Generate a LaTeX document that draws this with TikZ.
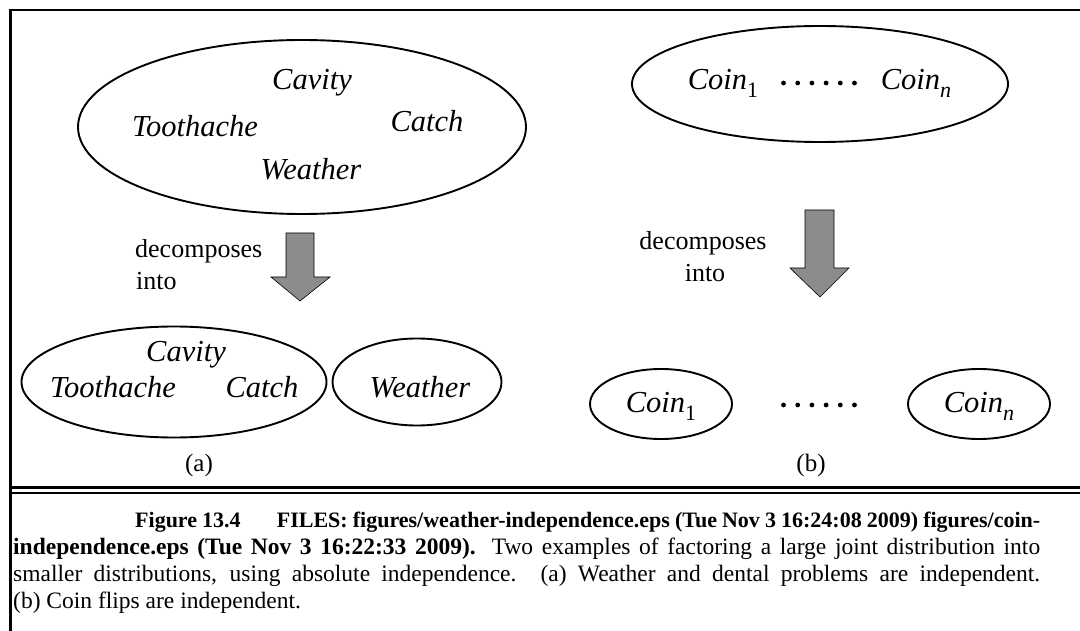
\documentclass[tikz,border=0pt]{standalone}
\usepackage{fontspec}
\setmainfont{Liberation Serif}
\usetikzlibrary{shapes.geometric}
\newcommand\coinsub[1]{Coin\raisebox{-8pt}{\fontsize{22}{22}\selectfont #1}}
\begin{document}
\begin{tikzpicture}[x=1pt,y=-1pt,
  oval/.style={draw, ellipse, line width=1.9pt, inner sep=0pt},
  var/.style={font=\fontsize{30.5}{36}\selectfont\itshape, inner sep=0pt, anchor=base},
  lbl/.style={font=\fontsize{26}{32}\selectfont, inner sep=0pt},
  sublbl/.style={font=\fontsize{25}{30}\selectfont, inner sep=0pt, anchor=base},
  bigarrow/.style={fill=black!45, draw=black, line width=0.6pt, line join=miter},
  frameline/.style={line width=2.7pt},
  dot/.style={fill=black}]
\useasboundingbox (0,0) rectangle (1080,631);
% frame
\draw[frameline, line join=miter] (1080,10) -- (10.5,10) -- (10.5,631);
\draw[line width=2.5pt] (10.5,487.5) -- (1080,487.5);
\draw[line width=2.5pt] (10.5,493) -- (1080,493);

% (a) top joint
\node[oval, minimum width=448pt, minimum height=174pt] (jointA) at (302,127) {};
\node[var] (cavA) at (312,90) {Cavity};
\node[var] (tooA) at (195,137) {Toothache};
\node[var] (catA) at (427,132) {Catch};
\node[var] (weaA) at (311,180) {Weather};

% (a) arrow
\draw[bigarrow] (286,233) -- (314,233) -- (314,277) -- (330,277) -- (300,301) -- (271,277) -- (286,277) -- cycle;
\node[lbl, anchor=base west] (decA1) at (135,258) {decomposes};
\node[lbl, anchor=base west] (decA2) at (136,290) {into};

% (a) bottom
\node[oval, minimum width=305pt, minimum height=111pt] (dentA) at (174,382) {};
\node[var] (cavB) at (186,362) {Cavity};
\node[var] (tooB) at (113,397) {Toothache};
\node[var] (catB) at (262,397) {Catch};
\node[oval, minimum width=169pt, minimum height=87pt] (weathA) at (417,382) {};
\node[var] (weaB) at (420,397) {Weather};
\node[sublbl] (labA) at (199,471) {(a)};

% (b) top joint
\node[oval, minimum width=376pt, minimum height=116pt] (jointB) at (820,84) {};
\node[var] (c1top) at (723,90) {\coinsub{\upshape 1}};
\node[var] (cntop) at (916,90) {\coinsub{n}};
\foreach \i in {0,...,5} \fill[dot] (783.5+14.2*\i,83) circle[radius=2.4pt];

% (b) arrow
\draw[bigarrow] (805,210) -- (834,210) -- (834,268) -- (849,268) -- (820,297) -- (790,268) -- (805,268) -- cycle;
\node[lbl, anchor=base] (decB1) at (703,250) {decomposes};
\node[lbl, anchor=base] (decB2) at (705,282) {into};

% (b) bottom
\node[oval, minimum width=142pt, minimum height=70pt] (coinOne) at (661,404) {};
\node[var] (c1bot) at (661,412) {\coinsub{\upshape 1}};
\foreach \i in {0,...,5} \fill[dot] (783.5+14.2*\i,405) circle[radius=2.4pt];
\node[oval, minimum width=142pt, minimum height=70pt] (coinN) at (979,404) {};
\node[var] (cnbot) at (979,412) {\coinsub{n}};
\node[sublbl] (labB) at (811,471) {(b)};

% caption
\node[anchor=north west, inner sep=0pt, align=left, font=\fontsize{23.5}{27}\selectfont] (caption) at (13,511.5) {%
\makebox[1027pt][s]{\fontsize{22}{27}\selectfont\hspace*{122pt}\textbf{Figure 13.4}\hspace{42pt minus 25pt}\textbf{FILES: figures/weather-independence.eps (Tue Nov 3 16:24:08 2009) figures/coin-}}\\
\makebox[1027pt][s]{\textbf{independence.eps (Tue Nov 3 16:22:33 2009).} Two examples of factoring a large joint distribution into}\\
\makebox[1027pt][s]{smaller distributions, using absolute independence.  (a) Weather and dental problems are independent.}\\
(b) Coin flips are independent.};
\end{tikzpicture}
\end{document}
